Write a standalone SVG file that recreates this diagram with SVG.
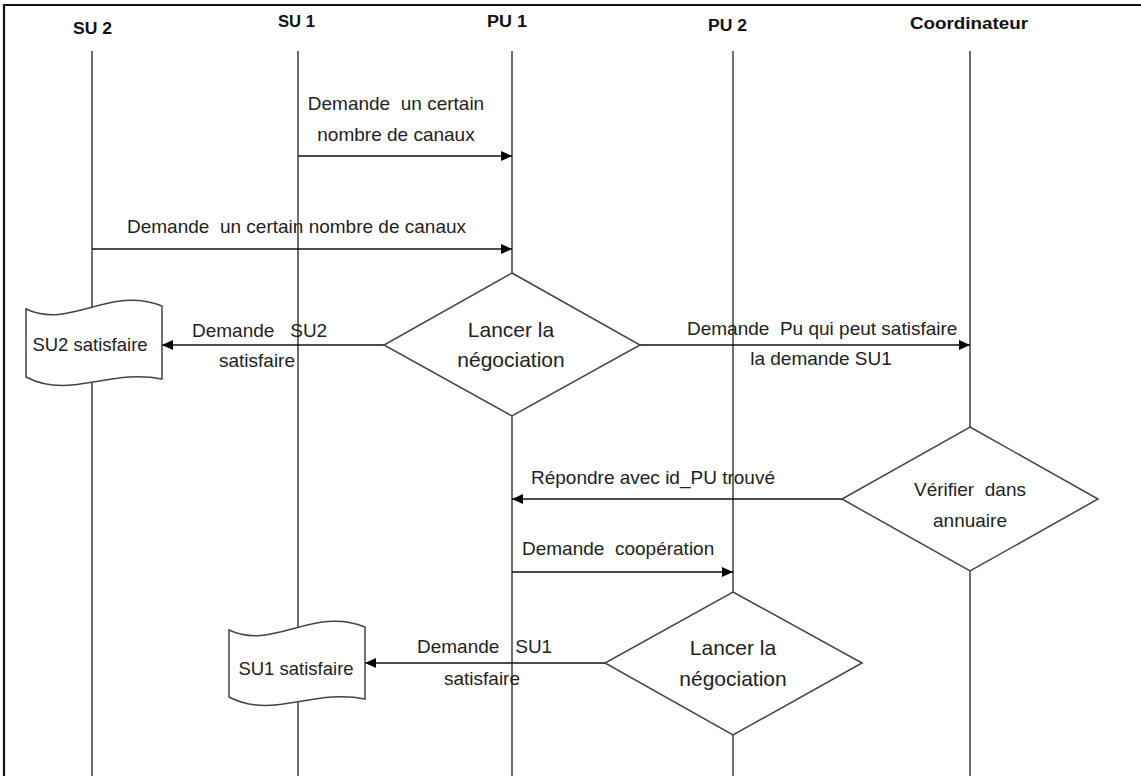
<svg xmlns="http://www.w3.org/2000/svg" width="1141" height="776" viewBox="0 0 1141 776">
<style>
.bg{fill:#fff}
.frame{stroke:#111;stroke-width:2.2;fill:none}
.life{stroke:#222;stroke-width:1.3;fill:none}
.msg{stroke:#111;stroke-width:1.6;fill:none;marker-end:url(#ah)}
.shape{fill:#fff;stroke:#444;stroke-width:1.5}
.hdr{font-family:"Liberation Sans",Arial,sans-serif;font-weight:bold;font-size:16px;fill:#111}
.lbl{font-family:"Liberation Sans",Arial,sans-serif;font-size:19px;fill:#222;white-space:pre}
.sm{font-size:18.5px}
.big{font-family:"Liberation Sans",Arial,sans-serif;font-size:21px;fill:#222;text-anchor:middle}
.mid{text-anchor:middle}
</style>
<defs>
<marker id="ah" markerUnits="userSpaceOnUse" markerWidth="12" markerHeight="10" refX="11" refY="5" orient="auto">
<path d="M0,0 L11,5 L0,10 Z" fill="#000"/>
</marker>
</defs>
<rect class="bg" x="0" y="0" width="1141" height="776"/>
<path class="frame" d="M4,776 L4,5 L1141,5"/>

<g id="lifelines">
<line class="life" x1="92" y1="51" x2="92" y2="776"/>
<line class="life" x1="298" y1="51" x2="298" y2="776"/>
<line class="life" x1="512" y1="51" x2="512" y2="776"/>
<line class="life" x1="733" y1="51" x2="733" y2="776"/>
<line class="life" x1="970" y1="51" x2="970" y2="776"/>
</g>

<g id="headers">
<text id="h-su2" class="hdr" x="73" y="34" textLength="39" lengthAdjust="spacingAndGlyphs">SU 2</text>
<text id="h-su1" class="hdr" x="278" y="27" textLength="37" lengthAdjust="spacingAndGlyphs">SU 1</text>
<text id="h-pu1" class="hdr" x="487" y="27" textLength="40" lengthAdjust="spacingAndGlyphs">PU 1</text>
<text id="h-pu2" class="hdr" x="708" y="31" textLength="39" lengthAdjust="spacingAndGlyphs">PU 2</text>
<text id="h-coord" class="hdr" x="910" y="29" textLength="118" lengthAdjust="spacingAndGlyphs">Coordinateur</text>
</g>

<g id="connectors">
<path class="msg" d="M298,156 L512,156"/>
<path class="msg" d="M92,249 L512,249"/>
<path class="msg" d="M384,345 L162,345"/>
<path class="msg" d="M640,345 L970,345"/>
<path class="msg" d="M842,499 L512,499"/>
<path class="msg" d="M512,572 L733,572"/>
<path class="msg" d="M605,663 L365,663"/>
</g>

<g id="labels">
<text class="lbl mid" x="396" y="110">Demande  un certain</text>
<text class="lbl mid" x="396" y="141">nombre de canaux</text>
<text class="lbl" x="127" y="233">Demande  un certain nombre de canaux</text>
<text class="lbl" x="192" y="337">Demande   SU2</text>
<text class="lbl mid" x="257" y="367">satisfaire</text>
<text class="lbl" x="687" y="335">Demande  Pu qui peut satisfaire</text>
<text class="lbl mid" x="821" y="365">la demande SU1</text>
<text class="lbl" x="531" y="484">Répondre avec id_PU trouvé</text>
<text class="lbl" x="522" y="555">Demande  coopération</text>
<text class="lbl" x="417" y="653">Demande   SU1</text>
<text class="lbl mid" x="482" y="685">satisfaire</text>
</g>

<g id="su2-satisfaire">
<path class="shape" d="M26,309 C70,330 110,285 162,306 L162,379 C110,368 70,400 26,377 Z"/>
<text class="lbl sm mid" x="90" y="351">SU2 satisfaire</text>
</g>

<g id="su1-satisfaire">
<path class="shape" d="M229,630 C273,651 313,606 365,627 L365,699 C313,688 273,720 229,697 Z"/>
<text class="lbl sm mid" x="296" y="675">SU1 satisfaire</text>
</g>

<g id="negociation-pu1">
<polygon class="shape" points="512,273 640,345 512,416 384,345"/>
<text class="big" x="511" y="337">Lancer la</text>
<text class="big" x="511" y="367">négociation</text>
</g>

<g id="verifier-annuaire">
<polygon class="shape" points="970,427 1098,499 970,571 842,499"/>
<text class="lbl mid" x="970" y="496">Vérifier  dans</text>
<text class="lbl mid" x="970" y="527">annuaire</text>
</g>

<g id="negociation-pu2">
<polygon class="shape" points="733,592 862,663 733,735 605,663"/>
<text class="big" x="733" y="655">Lancer la</text>
<text class="big" x="733" y="686">négociation</text>
</g>
</svg>
